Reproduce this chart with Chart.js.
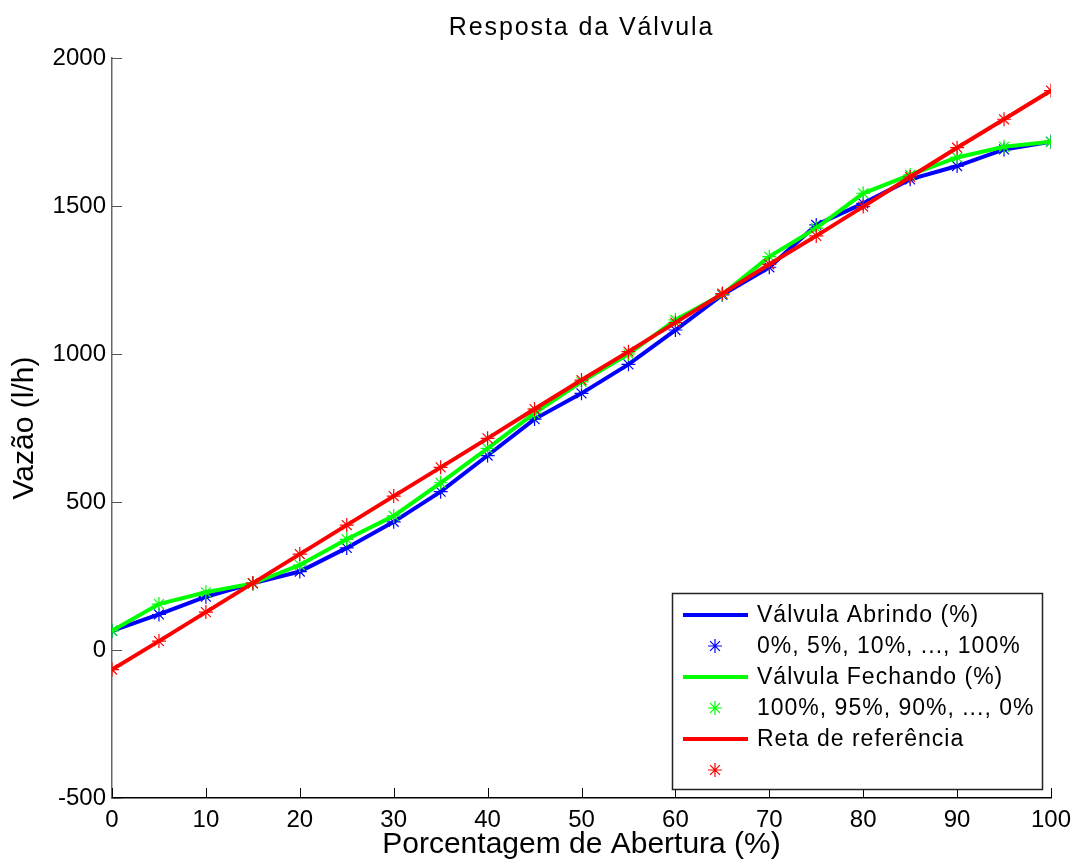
<!DOCTYPE html>
<html>
<head>
<meta charset="utf-8">
<script src="https://cdn.jsdelivr.net/npm/chart.js@4.4.1/dist/chart.umd.min.js"></script>
<style>
  html, body { margin: 0; padding: 0; background: #fff; }
  #wrap { width: 1075px; height: 865px; }
</style>
</head>
<body>
<div id="wrap"><canvas id="chart"></canvas></div>
<script>
const FONT = "'Liberation Sans', Arial, sans-serif";

// abertura da válvula (%)
const pct = [0, 5, 10, 15, 20, 25, 30, 35, 40, 45, 50, 55, 60, 65, 70, 75, 80, 85, 90, 95, 100];

// vazão (l/h)
const abrindo  = [65, 120, 180, 225, 265, 345, 433, 535, 657, 780, 867, 965, 1081, 1200, 1293, 1436, 1509, 1590, 1635, 1691, 1717];
const fechando = [65, 155, 195, 225, 287, 374, 453, 565, 681, 800, 906, 1000, 1115, 1202, 1329, 1425, 1543, 1605, 1664, 1700, 1717];
const reta     = [-66, 30, 128, 226, 324, 422, 520, 617, 715, 814, 912, 1008, 1106, 1204, 1303, 1399, 1498, 1598, 1697, 1793, 1890];

const labels = [
  'Válvula Abrindo (%)',
  '0%, 5%, 10%, ..., 100%',
  'Válvula Fechando (%)',
  '100%, 95%, 90%, ..., 0%',
  'Reta de referência',
  ''
];

const TITLE = 'Resposta da Válvula';
const xTicks = [0, 10, 20, 30, 40, 50, 60, 70, 80, 90, 100];
const yTicks = [-500, 0, 500, 1000, 1500, 2000];

const pts = ys => pct.map((x, i) => ({ x: x, y: ys[i] }));

function lineSet(label, ys, color, order) {
  return {
    label: label, data: pts(ys), borderColor: color, backgroundColor: color,
    borderWidth: 4, pointRadius: 0, showLine: true, order: order
  };
}

function starSet(label, ys, color, order) {
  return {
    label: label, data: pts(ys), borderColor: color, backgroundColor: color,
    showLine: false, pointStyle: 'star', pointRadius: 7, pointBorderWidth: 1.2, order: order
  };
}

// titulo desenhado a mao (espaçamento entre letras parecido com o matlab)
const spacedTitle = {
  id: 'spacedTitle',
  afterDraw(chart) {
    const { ctx, chartArea: a } = chart;
    ctx.save();
    ctx.font = '25px ' + FONT;
    ctx.letterSpacing = '1.9px';
    ctx.fillStyle = '#000';
    ctx.textAlign = 'center';
    ctx.textBaseline = 'alphabetic';
    ctx.fillText(TITLE, (a.left + a.right) / 2, 35);
    ctx.restore();
  }
};

// ticks para dentro, estilo matlab
const innerTicks = {
  id: 'innerTicks',
  afterDraw(chart) {
    const { ctx, scales: { x, y }, chartArea: a } = chart;
    ctx.save();
    ctx.lineWidth = 1;
    ctx.strokeStyle = '#000';
    xTicks.forEach(v => {
      const px = Math.round(x.getPixelForValue(v)) + 0.5;
      ctx.beginPath(); ctx.moveTo(px, a.bottom); ctx.lineTo(px, a.bottom - 10); ctx.stroke();
    });
    ctx.strokeStyle = '#555';
    yTicks.forEach(v => {
      const py = Math.round(y.getPixelForValue(v)) + 0.5;
      ctx.beginPath(); ctx.moveTo(a.left, py); ctx.lineTo(a.left + 10, py); ctx.stroke();
    });
    ctx.restore();
  }
};

// legenda dentro da área do gráfico (canto inferior direito)
const boxLegend = {
  id: 'boxLegend',
  afterDraw(chart) {
    const { ctx, chartArea: a } = chart;
    const w = 370, h = 196;
    const x0 = a.right - w - 9, y0 = a.bottom - h - 9;
    ctx.save();
    ctx.fillStyle = '#fff';
    ctx.fillRect(x0, y0, w, h);
    ctx.strokeStyle = '#222';
    ctx.lineWidth = 1.5;
    ctx.strokeRect(x0 + 0.5, y0 + 0.5, w, h);
    ctx.font = '23px ' + FONT;
    ctx.letterSpacing = '1px';
    ctx.textBaseline = 'middle';
    chart.data.datasets.forEach((ds, i) => {
      const cy = y0 + 22 + i * 31;
      ctx.strokeStyle = ds.borderColor;
      if (ds.showLine) {
        ctx.lineWidth = 4;
        ctx.beginPath(); ctx.moveTo(x0 + 11, cy); ctx.lineTo(x0 + 76, cy); ctx.stroke();
      } else {
        ctx.lineWidth = 1.2;
        Chart.helpers.drawPoint(ctx, { pointStyle: 'star', radius: 7, borderWidth: 1.2 }, x0 + 43, cy);
      }
      ctx.fillStyle = '#000';
      ctx.fillText(ds.label, x0 + 85, cy + 1);
    });
    ctx.restore();
  }
};

new Chart(document.getElementById('chart'), {
  type: 'scatter',
  data: {
    datasets: [
      lineSet(labels[0], abrindo, '#0000ff', 6),
      starSet(labels[1], abrindo, '#0000ff', 5),
      lineSet(labels[2], fechando, '#00ff00', 4),
      starSet(labels[3], fechando, '#00ff00', 3),
      lineSet(labels[4], reta, '#ff0000', 2),
      starSet(labels[5], reta, '#ff0000', 1)
    ]
  },
  options: {
    responsive: true,
    maintainAspectRatio: false,
    animation: false,
    layout: { padding: { left: 0, right: 24, top: 58, bottom: 0 } },
    plugins: {
      legend: { display: false },
      tooltip: { enabled: false },
      title: { display: false }
    },
    scales: {
      x: {
        type: 'linear', min: 0, max: 100,
        afterBuildTicks: s => { s.ticks = xTicks.map(v => ({ value: v })); },
        afterFit: s => { s.height = 67; s.paddingLeft = 0; s.paddingRight = 0; },
        grid: { display: false, drawTicks: false },
        border: { display: true, color: '#000', width: 1.5 },
        ticks: { color: '#000', padding: 8, maxRotation: 0, font: { family: FONT, size: 24 } },
        title: { display: true, text: 'Porcentagem de Abertura (%)', color: '#000', padding: { top: 0, bottom: 2 }, font: { family: FONT, size: 30 } }
      },
      y: {
        type: 'linear', min: -500, max: 2000,
        afterBuildTicks: s => { s.ticks = yTicks.map(v => ({ value: v })); },
        afterFit: s => { s.width = 112; s.paddingTop = 0; s.paddingBottom = 0; },
        grid: { display: false, drawTicks: false },
        border: { display: true, color: '#666', width: 1.5 },
        ticks: { color: '#000', padding: 6, font: { family: FONT, size: 24 }, callback: v => String(v) },
        title: { display: true, text: 'Vazão (l/h)', color: '#000', padding: { top: 7, bottom: 0 }, font: { family: FONT, size: 30 } }
      }
    }
  },
  plugins: [innerTicks, boxLegend, spacedTitle]
});
</script>
</body>
</html>
